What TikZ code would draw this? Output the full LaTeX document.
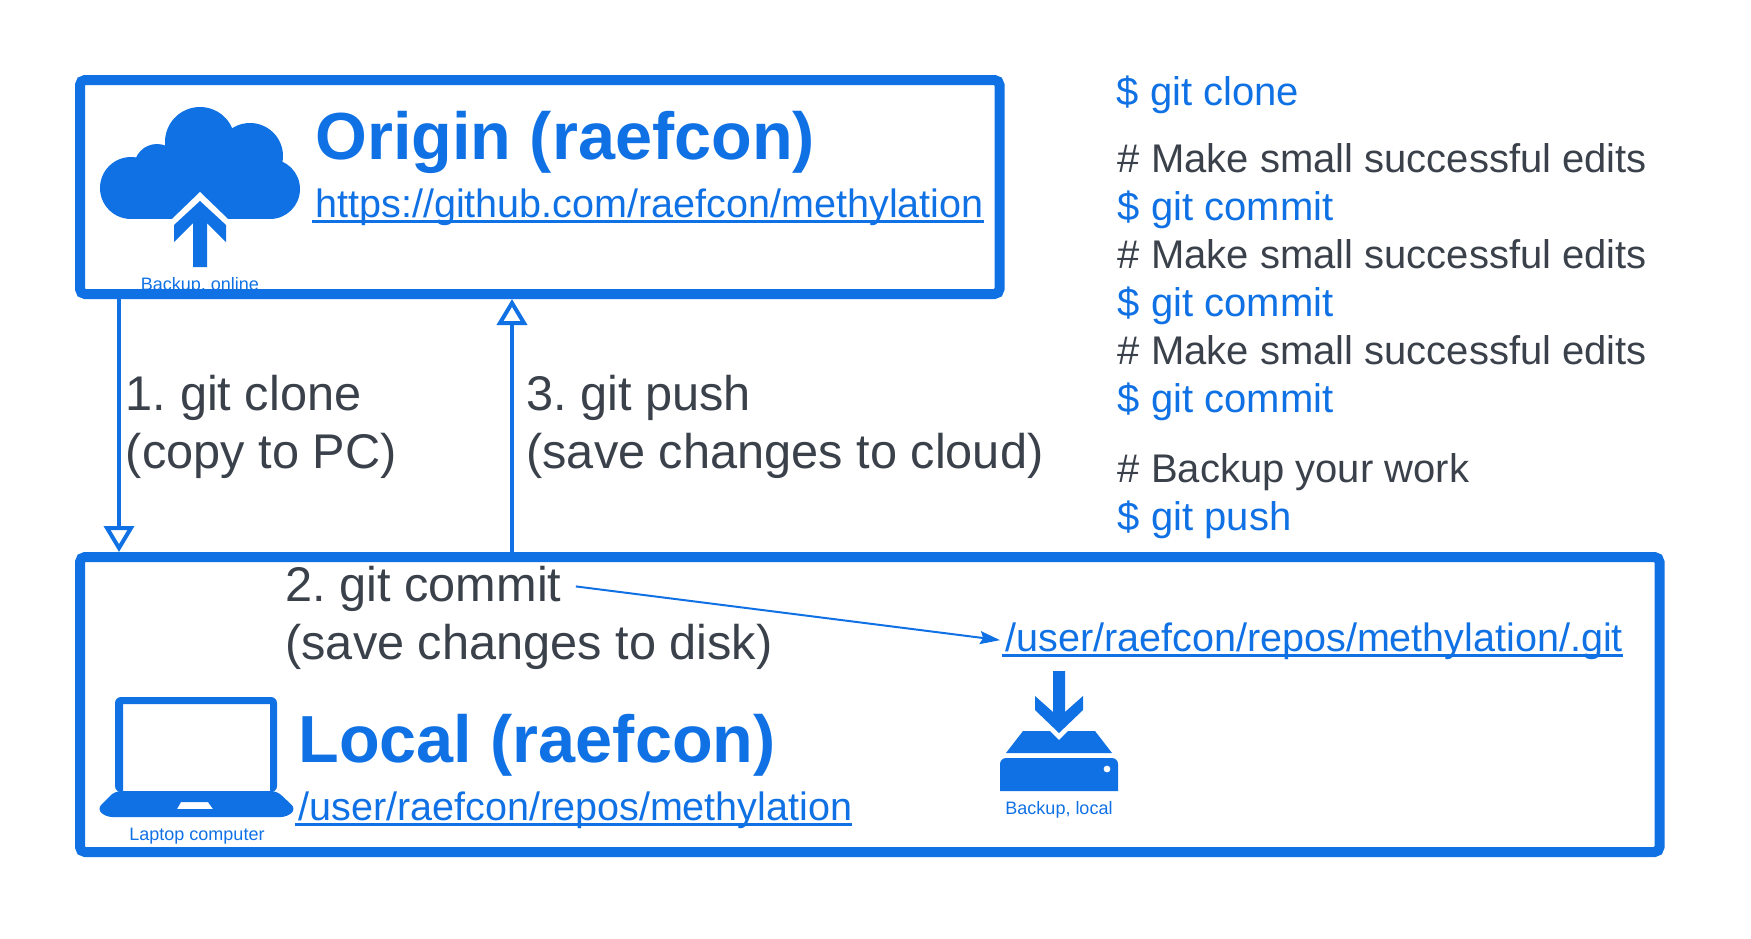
\documentclass[tikz,border=0pt]{standalone}
\usepackage{fontspec}
\setmainfont{Liberation Sans}
\usetikzlibrary{arrows.meta}
\definecolor{lucidblue}{HTML}{1071E5}
\definecolor{lucidgray}{HTML}{3A414A}
\frenchspacing
\newcommand{\linkline}[1]{\setbox0\hbox{#1}\rlap{\kern-1.5pt\rule[-3pt]{\dimexpr\wd0+1.5pt\relax}{1.5pt}}\box0}
\tikzset{
	every node/.style={inner sep=0pt, anchor=base west},
	maintitle/.style={font=\fontsize{33.3}{38}\selectfont\bfseries, text=lucidblue},
	linktext/.style={font=\fontsize{19.77}{24}\selectfont, text=lucidblue},
	cmdtext/.style={font=\fontsize{20}{24}\selectfont, text=lucidblue},
	notetext/.style={font=\fontsize{20}{24}\selectfont, text=lucidgray},
	steptext/.style={font=\fontsize{24.35}{29}\selectfont, text=lucidgray, align=left},
	icontext/.style={font=\fontsize{9}{10}\selectfont, text=lucidblue, anchor=base},
	repobox/.style={draw=lucidblue, line width=5pt, rounded corners=2.5pt, anchor=center},
	flowline/.style={draw=lucidblue, line width=2pt, -{Triangle[open, length=13pt, width=15pt]}},
	thinline/.style={draw=lucidblue, line width=1pt, shorten >=2.5pt, -{Stealth[length=10pt, width=6.5pt, inset=1.5pt]}}
}

\begin{document}
\begin{tikzpicture}[x=0.5pt, y=-0.5pt]
	\useasboundingbox (0,0) rectangle (1751,938);

	%%%%% CLOUD %%%%%
	\fill[lucidblue] (200,142) circle (35);
	\fill[lucidblue] (250,156) circle (33);
	\fill[lucidblue] (157,167) circle (23);
	\fill[lucidblue] (131,188) circle (31);
	\fill[lucidblue] (270,189) circle (30);
	\fill[lucidblue] (131,219) rectangle (270,165);
	\fill[white] (200,192) -- (172,219) -- (228,219) -- cycle;
	\fill[lucidblue] (200,201) -- (226,225) -- (226,242) -- (207,223) -- (207,267) -- (193,267) -- (193,223) -- (174,242) -- (174,225) -- cycle;
	\node[icontext] (cloudlabel) at (200,290) {Backup, online};

	%%%%% LAPTOP %%%%%
	\fill[lucidblue, even odd rule] [rounded corners=3pt] (115,792) -- (115,697) -- (277,697) -- (277,792) -- cycle
		[sharp corners] (123,704) rectangle (270,791);
	\fill[lucidblue, rounded corners=3pt, even odd rule] (115,791) -- (277,791) -- (296,809) -- (287,817) -- (106,817) -- (97,809) -- cycle
		[sharp corners] (181,802) -- (208,802) -- (213,809) -- (177,809) -- cycle;
	\node[icontext] (laptoplabel) at (197,840) {Laptop computer};

	%%%%% DRIVE %%%%%
	\fill[lucidblue] (1053,671) -- (1065,671) -- (1065,712) -- (1083,696) -- (1083,710) -- (1059,733) -- (1035,710) -- (1035,696) -- (1053,712) -- cycle;
	\fill[lucidblue] (1023,731) -- (1050,731) -- (1059,740) -- (1068,731) -- (1095,731) -- (1112,753) -- (1006,753) -- cycle;
	\fill[lucidblue, even odd rule] (1000,791) [rounded corners=3pt] -- (1000,758) -- (1118,758) [sharp corners] -- (1118,791) -- cycle
		(1107,769) circle (3.5);
	\node[icontext] (drivelabel) at (1059,814) {Backup, local};

	%%%%% BOXES %%%%%
	\node[repobox, minimum width=459.75pt, minimum height=107pt] (origin) at (539.75,187) {};
	\node[repobox, minimum width=789.75pt, minimum height=147.5pt] (local) at (869.75,704.5) {};

	\node[maintitle] (origintitle) at (315,159) {Origin (raefcon)};
	\node[linktext] (originlink) at (315,217) {\linkline{https://github.com/raefcon/methylation}};
	\node[maintitle] (localtitle) at (298,762) {Local (raefcon)};
	\node[linktext] (locallink) at (298,820) {\linkline{/user/raefcon/repos/methylation}};
	\node[linktext] (gitlink) at (1005,651) {\linkline{/user/raefcon/repos/methylation/.git}};

	%%%%% STEPS %%%%%
	\node[steptext] (clonestep) at (125.5,468) {1. git clone\\(copy to PC)};
	\node[steptext] (pushstep) at (526,468) {3. git push\\(save changes to cloud)};
	\node[steptext] (commitone) at (285,601) {2. git commit};
	\node[steptext] (committwo) at (285,659.5) {(save changes to disk)};

	\coordinate (clonex) at (119,0);
	\coordinate (pushx) at (512,0);
	\draw[flowline] (origin.south -| clonex) -- (local.north -| clonex);
	\draw[flowline] (local.north -| pushx) -- (origin.south -| pushx);
	\draw[thinline] (commitone.east) ++(14,-2) -- (gitlink.west);

	%%%%% COMMANDS %%%%%
	\node[cmdtext] (cmdclone) at (1116.5,105.5) {\$ git clone};
	\node[notetext] (noteone) at (1117.5,172) {\# Make small successful edits};
	\node[cmdtext] (cmdone) at (1117.5,220) {\$ git commit};
	\node[notetext] (notetwo) at (1117.5,268) {\# Make small successful edits};
	\node[cmdtext] (cmdtwo) at (1117.5,316) {\$ git commit};
	\node[notetext] (notethree) at (1117.5,364) {\# Make small successful edits};
	\node[cmdtext] (cmdthree) at (1117.5,412) {\$ git commit};
	\node[notetext] (notepush) at (1117.5,482) {\# Backup your work};
	\node[cmdtext] (cmdpush) at (1117.5,530) {\$ git push};
\end{tikzpicture}
\end{document}
